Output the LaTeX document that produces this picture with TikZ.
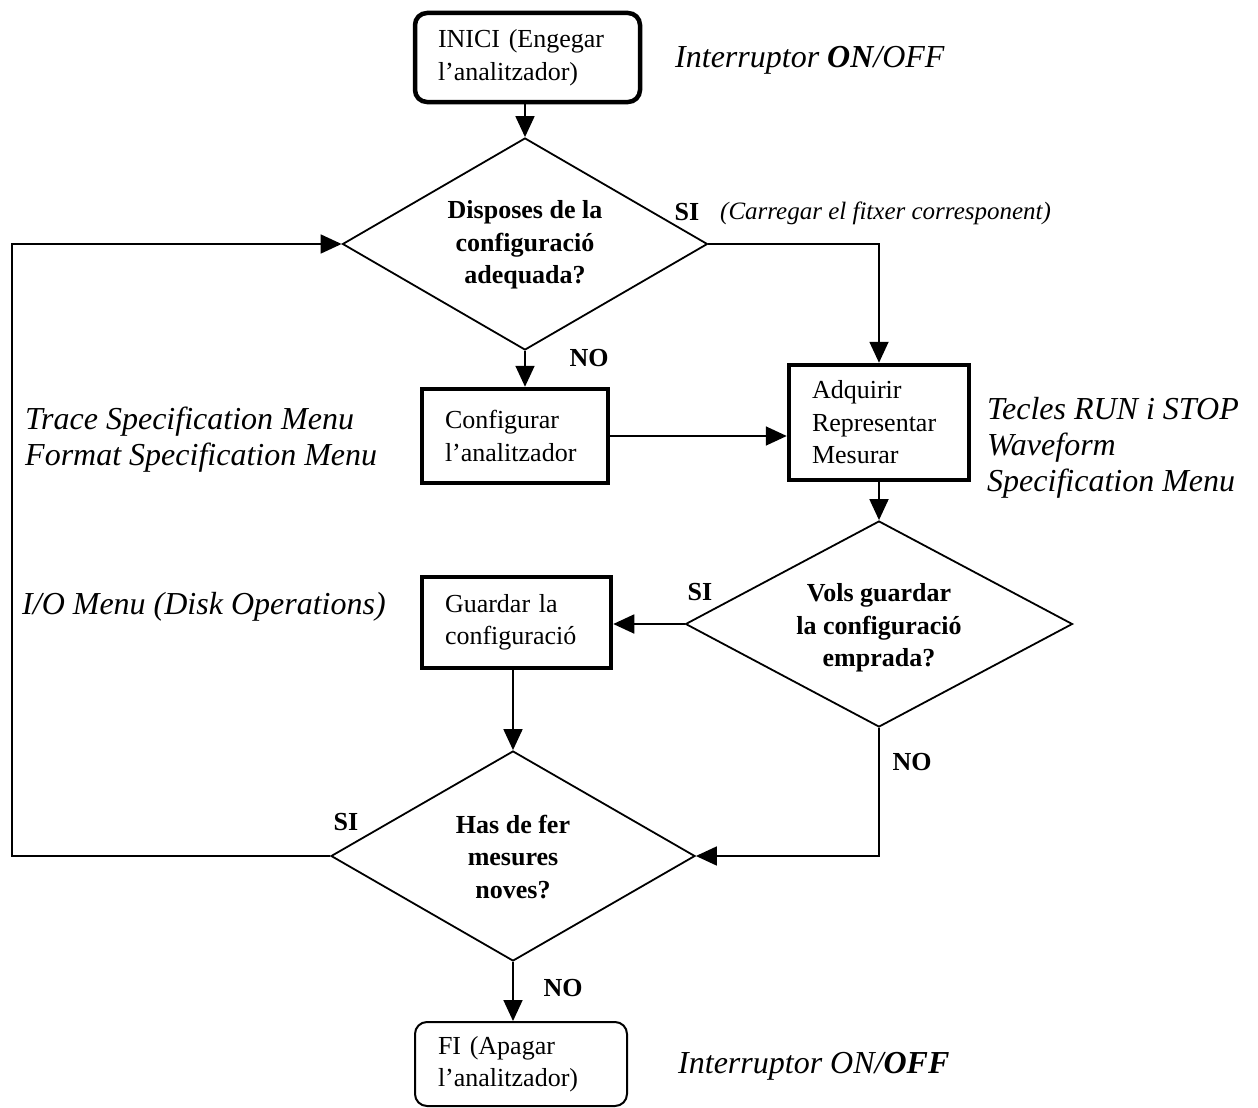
\documentclass[tikz,border=0pt]{standalone}
\usepackage{fontspec}
\setmainfont{Liberation Serif}
\usetikzlibrary{shapes.geometric,arrows.meta}
\begin{document}
\begin{tikzpicture}[x=1pt,y=-1pt,
  box/.style={draw, line width=4.5pt, rectangle, align=left, inner xsep=23pt, inner ysep=0pt,
              font=\fontsize{26}{32.5}\selectfont},
  dia/.style={draw, diamond, line width=1.8pt, inner sep=0pt},
  qtext/.style={align=center, inner sep=0pt, font=\bfseries\fontsize{26}{32.5}\selectfont},
  lbl/.style={font=\bfseries\fontsize{26}{30}\selectfont, inner sep=0pt},
  note/.style={font=\itshape\fontsize{32}{36}\selectfont, align=left, inner sep=0pt, anchor=west},
  conn/.style={line width=1.8pt, -{Triangle[length=21pt,width=19pt]}},
  plain/.style={line width=1.8pt}
]
\useasboundingbox (0,0) rectangle (1258,1108);
\fill[white] (0,0) rectangle (1258,1108);

% boxes
\node[box, rounded corners=12pt, minimum width=225pt, text width=179pt, minimum height=89pt]
  (start) at (527.5,57.5) {INICI (Engegar\\l’analitzador)};
\node[box, minimum width=186pt, text width=140pt, minimum height=94pt]
  (conf) at (515,436) {Configurar\\l’analitzador};
\node[box, minimum width=180pt, text width=134pt, minimum height=115pt]
  (acq) at (879,422.5) {Adquirir\\Representar\\Mesurar};
\node[box, minimum width=189pt, text width=143pt, minimum height=91pt]
  (save) at (516.5,622.5) {Guardar la\\configuració};
\node[box, line width=2pt, rounded corners=12pt, minimum width=212pt, text width=166pt, minimum height=84pt]
  (fi) at (521,1064) {FI (Apagar\\l’analitzador)};

% decisions
\node[dia, minimum width=365pt, minimum height=212pt] (d1) at (525,244) {};
\node[qtext] (d1t) at (525,245) {Disposes de la\\configuració\\adequada?};
\node[dia, minimum width=387pt, minimum height=206pt] (d2) at (879,624) {};
\node[qtext] (d2t) at (879,628) {Vols guardar\\la configuració\\emprada?};
\node[dia, minimum width=364pt, minimum height=210pt] (d3) at (513,856) {};
\node[qtext] (d3t) at (513,857) {Has de fer\\mesures\\noves?};

\coordinate (lp) at (12,244);

% connectors
\draw[conn] (d1.north |- start.south) -- (d1.north);
\draw[conn] (d1.south) -- (d1.south |- conf.north);
\draw[conn] (d1.east) -| (acq.north);
\draw[conn] (conf.east) -- (conf.east -| acq.west);
\draw[conn] (acq.south) -- (d2.north);
\draw[conn] (d2.west) -- (d2.west -| save.east);
\draw[conn] (d3.north |- save.south) -- (d3.north);
\draw[conn] (d2.south) |- (d3.east);
\draw[conn] (d3.west) -| (lp) -- (d1.west);
\draw[conn] (d3.south) -- (d3.south |- fi.north);

% branch labels
\node[lbl] (si1) at (687,212) {SI};
\node[font=\itshape\fontsize{25}{30}\selectfont, inner sep=0pt, anchor=west] (carr) at (720,213) {(Carregar el fitxer corresponent)};
\node[lbl] (no1) at (589,358) {NO};
\node[lbl] (si2) at (700,592) {SI};
\node[lbl] (no2) at (912,762) {NO};
\node[lbl] (si3) at (346,822) {SI};
\node[lbl] (no3) at (563,988) {NO};

% side notes
\node[note] (n1) at (675,60) {Interruptor {\bfseries ON}/OFF};
\node[note] (n2) at (25,440) {Trace Specification Menu\\Format Specification Menu};
\node[note] (n3) at (987,448) {Tecles RUN i STOP\\Waveform\\Specification Menu};
\node[note] (n4) at (22,607) {I/O Menu (Disk Operations)};
\node[note] (n5) at (678,1066) {Interruptor ON/{\bfseries OFF}};
\end{tikzpicture}
\end{document}
